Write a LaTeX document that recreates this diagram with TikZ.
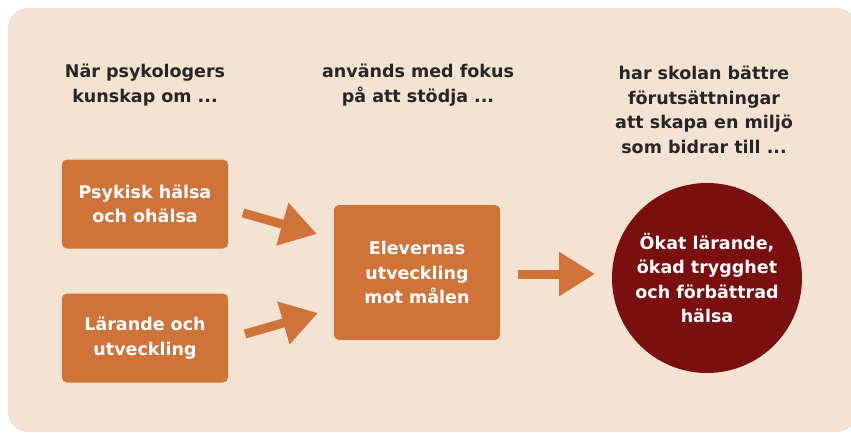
\documentclass[tikz,border=0pt]{standalone}
\usepackage{fontspec}
\setsansfont{DejaVu Sans}
\usetikzlibrary{arrows.meta}
\definecolor{bgbeige}{HTML}{F4E3D2}
\definecolor{boxorange}{HTML}{CF7339}
\definecolor{resultred}{HTML}{7B0E0E}
\definecolor{headgray}{HTML}{262626}
\tikzset{%
  >={Triangle[length=36pt,width=42pt]},
  % Specifications for style of nodes:
      textfont/.style = {font=\sffamily\bfseries\fontsize{17.5}{24.5}\selectfont},
          base/.style = {rectangle, rounded corners=5pt, fill=boxorange,
                         text=white, align=center, inner sep=0pt, textfont},
        source/.style = {base, minimum width=166pt, minimum height=89pt},
         focus/.style = {base, minimum width=166pt, minimum height=135pt},
        result/.style = {circle, fill=resultred, text=white, inner sep=0pt,
                         minimum size=190pt, align=center, textfont},
       heading/.style = {text=headgray, align=center, textfont},
     blockarrow/.style = {->, draw=boxorange, line width=9pt},
}
\begin{document}
\begin{tikzpicture}[x=1pt, y=-1pt, node distance=134pt]
  \useasboundingbox (0,0) rectangle (851,433);
  \fill[bgbeige, rounded corners=20pt] (8,8) rectangle (857,432);

  % Headings over the three columns
  \node (headKnow)  [heading] at (145,85)  {När psykologers\\kunskap om ...};
  \node (headFocus) [heading] at (418,85)  {används med fokus\\på att stödja ...};
  \node (headGoal)  [heading] at (704,110) {har skolan bättre\\förutsättningar\\att skapa en miljö\\som bidrar till ...};

  % Specification of nodes (position, etc.)
  \node (health)   [source] at (145,204)      {Psykisk hälsa\\och ohälsa};
  \node (learning) [source, below of=health] {Lärande och\\utveckling};
  \node (pupils)   [focus]  at (417,272.5)    {Elevernas\\utveckling\\mot målen};
  \node (outcome)  [result] at (707,278)      {Ökat lärande,\\ökad trygghet\\och förbättrad\\hälsa};

  % Arrow ends between the boxes
  \coordinate (healthOut)   at (243,213);
  \coordinate (pupilsInA)   at (317,234);
  \coordinate (learningOut) at (245,334);
  \coordinate (pupilsInB)   at (318,313);
  \coordinate (pupilsOut)   at (518,274);
  \coordinate (outcomeIn)   at (595,274);

  \draw[blockarrow] (healthOut)   -- (pupilsInA);
  \draw[blockarrow] (learningOut) -- (pupilsInB);
  \draw[blockarrow] (pupilsOut)   -- (outcomeIn);
\end{tikzpicture}
\end{document}
